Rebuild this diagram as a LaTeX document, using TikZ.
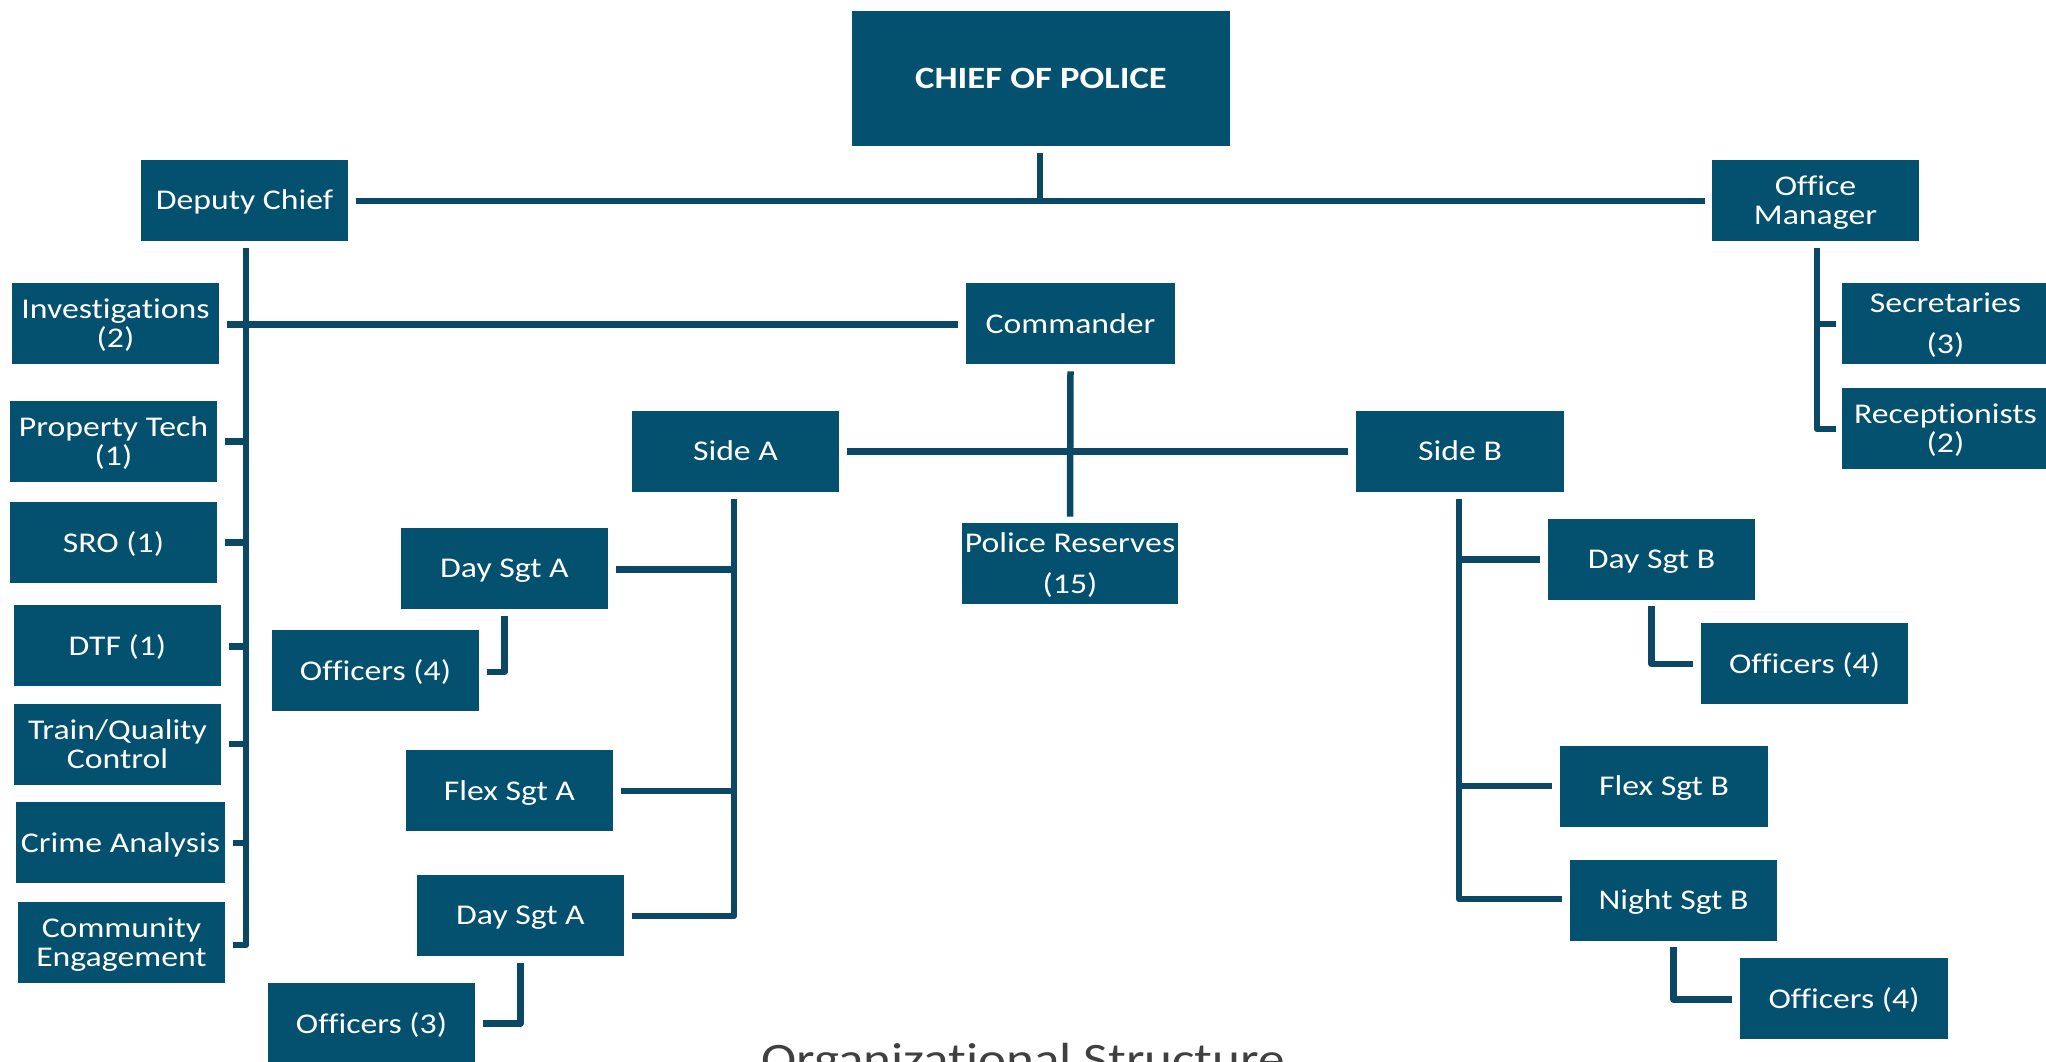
\documentclass[tikz,border=0pt]{standalone}
\usepackage{fontspec}
\setmainfont[FakeStretch=1.18,Ligatures=NoCommon]{Carlito}
\usetikzlibrary{calc}
\definecolor{boxblue}{RGB}{3,80,111}
\definecolor{lineblue}{RGB}{10,72,102}
\definecolor{titlegray}{RGB}{64,64,64}
\begin{document}
\begin{tikzpicture}[x=0.5pt,y=-0.5pt,
  box/.style={rectangle, fill=boxblue, text=white, inner sep=0pt, align=center,
    minimum width=103.5pt, minimum height=40.5pt, text depth=0pt,
    font=\fontsize{14.3}{14.5}\selectfont},
  conn/.style={draw=lineblue, line width=3.25pt, line join=round}]
\fill[white] (0,0) rectangle (2046,1061);
\useasboundingbox (0,0) rectangle (2046,1061);
% nodes
\node[box, minimum width=189pt, minimum height=67.5pt,
  font=\fontsize{15.5}{16}\selectfont\bfseries] (chief) at (1041,78.5) {CHIEF OF POLICE};
\node[box] (deputy) at (244.5,200) {Deputy Chief};
\node[box] (office) at (1815.5,200) {Office\\Manager};
\node[box] (inv) at (115.5,323.5) {Investigations\\(2)};
\node[box, minimum width=104.5pt] (cmdr) at (1070.5,323.5) {Commander};
\node[box] (prop) at (113.5,441) {Property Tech\\(1)};
\node[box] (sro) at (113.5,542) {SRO (1)};
\node[box] (dtf) at (117.5,645.5) {DTF (1)};
\node[box] (train) at (117.5,744) {Train/Quality\\Control};
\node[box, minimum width=104.5pt] (crime) at (120.5,842.5) {Crime Analysis};
\node[box] (comm) at (121.5,942.5) {Community\\Engagement};
\node[box] (sideA) at (735.5,451) {Side A};
\node[box, minimum width=104pt] (sideB) at (1460,451) {Side B};
\node[box] (secr) at (1945.5,323) {Secretaries\\[6pt](3)};
\node[box] (recep) at (1945.5,428) {Receptionists\\(2)};
\node[box, minimum width=108pt] (police) at (1070,563.5) {Police Reserves\\[6pt](15)};
\node[box] (daysgtA1) at (504.5,568) {Day Sgt A};
\node[box] (offA4) at (375.5,670.5) {Officers (4)};
\node[box] (flexA) at (509.5,790.5) {Flex Sgt A};
\node[box] (daysgtA2) at (520.5,915) {Day Sgt A};
\node[box] (offA3) at (371.5,1023) {Officers (3)};
\node[box] (daysgtB) at (1651.5,559.5) {Day Sgt B};
\node[box] (offB4a) at (1804.5,663) {Officers (4)};
\node[box, minimum width=104pt] (flexB) at (1664,786) {Flex Sgt B};
\node[box] (nightB) at (1673.5,900) {Night Sgt B};
\node[box, minimum width=104pt] (offB4b) at (1844,998.5) {Officers (4)};
\node[anchor=base, inner sep=0pt, text=titlegray, font=\fontsize{22.5}{24}\selectfont] (title) at (1023,1074) {Organizational Structure};
% connectors
\draw[conn] ($(chief.south)+(-1,7)$) -- ($(chief.south |- deputy.east)+(-1,1)$);
\draw[conn] ($(deputy.east)+(8,1)$) -- ($(office.west)+(-7,1)$);
\coordinate (dv) at ($(deputy.south)+(1.5,7)$);
\draw[conn] (dv) |- ($(comm.east)+(8,2.5)$);
\draw[conn] ($(inv.east)+(8,1)$) -- ($(cmdr.west)+(-8,1)$);
\draw[conn] ($(prop.east)+(8,0.5)$) -- ($(prop.east -| dv)+(0,0.5)$);
\draw[conn] ($(sro.east)+(8,0.5)$) -- ($(sro.east -| dv)+(0,0.5)$);
\draw[conn] ($(dtf.east)+(8,1)$) -- ($(dtf.east -| dv)+(0,1)$);
\draw[conn] ($(train.east)+(8,0)$) -- (train.east -| dv);
\draw[conn] ($(crime.east)+(8,0.5)$) -- ($(crime.east -| dv)+(0,0.5)$);
\draw[conn] ($(cmdr.south)+(0,7)$) -- ($(police.north)+(0,-6)$);
\draw[conn] ($(sideA.east)+(8,0.5)$) -- ($(sideB.west)+(-8,0.5)$);
\coordinate (av) at ($(sideA.south)+(-1.5,7)$);
\draw[conn] (av) |- ($(daysgtA2.east)+(8,1)$);
\draw[conn] ($(daysgtA1.east)+(8,1.5)$) -- ($(daysgtA1.east -| av)+(0,1.5)$);
\draw[conn] ($(flexA.east)+(8,0.5)$) -- ($(flexA.east -| av)+(0,0.5)$);
\draw[conn] ($(daysgtA1.south)+(0,7)$) |- ($(offA4.east)+(8,1.5)$);
\draw[conn] ($(daysgtA2.south)+(0,7)$) |- ($(offA3.east)+(8,0.5)$);
\coordinate (bv) at ($(sideB.south)+(-1,7)$);
\draw[conn] (bv) |- ($(nightB.west)+(-8,-1)$);
\draw[conn] ($(daysgtB.west)+(-8,0)$) -- (daysgtB.west -| bv);
\draw[conn] ($(flexB.west)+(-8,0)$) -- (flexB.west -| bv);
\draw[conn] ($(daysgtB.south)+(0,6)$) |- ($(offB4a.west)+(-8,1)$);
\draw[conn] ($(nightB.south)+(0,6.5)$) |- ($(offB4b.west)+(-8,1)$);
\coordinate (ov) at ($(office.south)+(1.5,7)$);
\draw[conn] (ov) |- ($(recep.west)+(-6,1)$);
\draw[conn] ($(secr.west)+(-6,1)$) -- ($(secr.west -| ov)+(0,1)$);
\end{tikzpicture}
\end{document}
